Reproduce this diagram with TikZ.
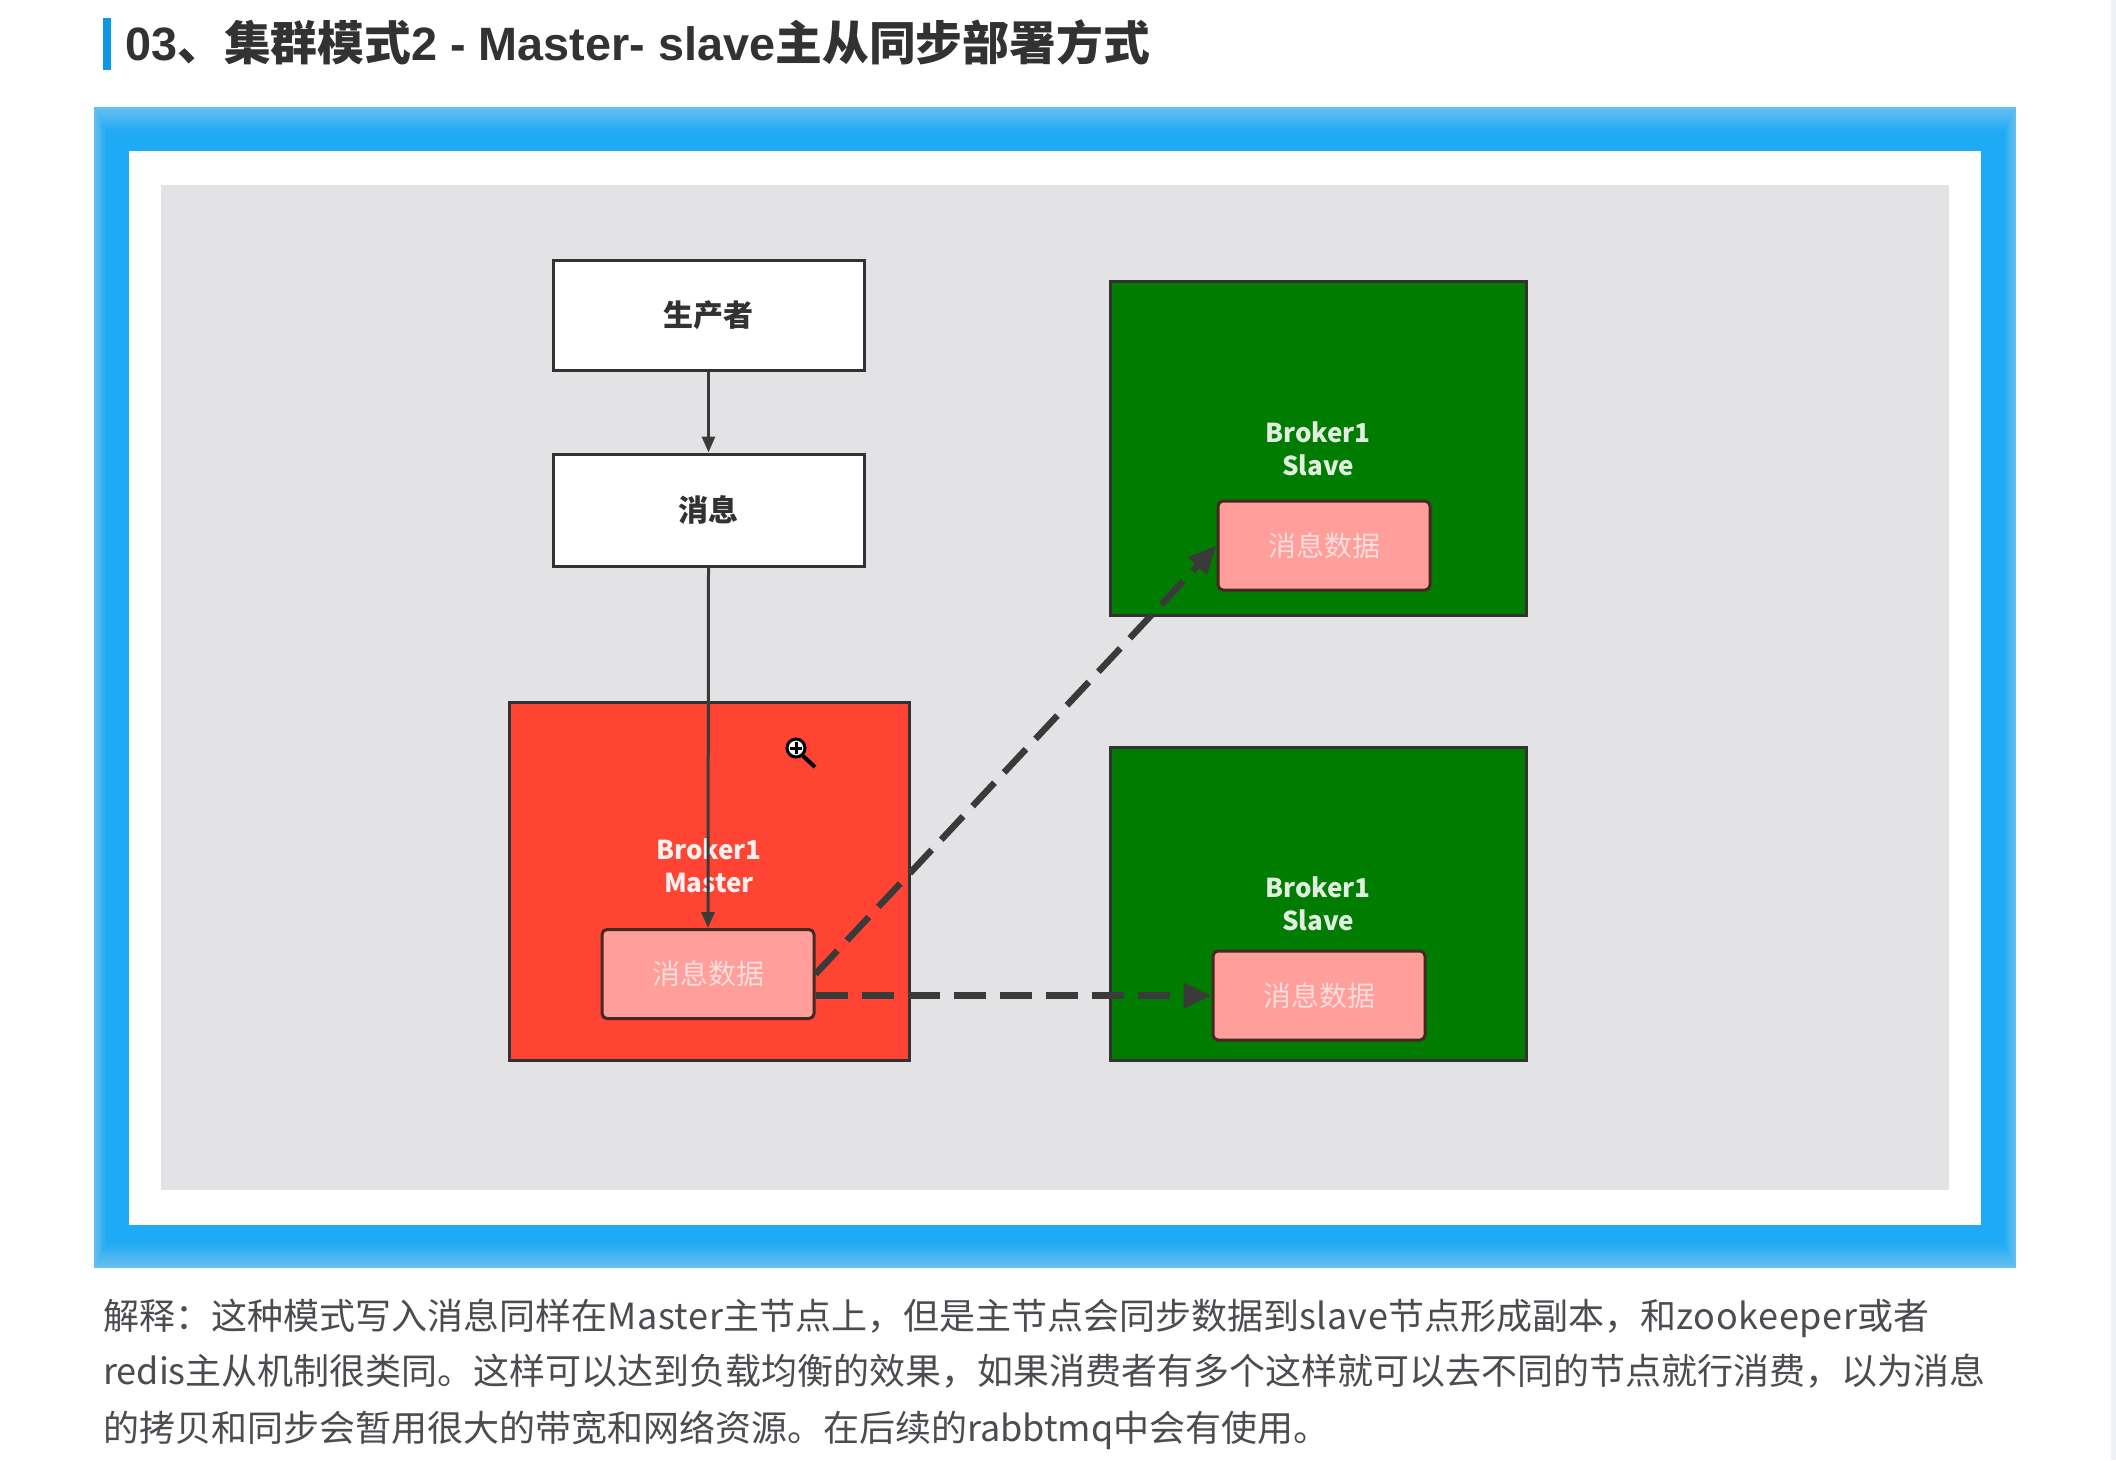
\documentclass[tikz,border=0pt]{standalone}
\usepackage{fontspec}
\usepackage{xcolor}
\setmainfont{Liberation Sans}
\newfontfamily\cjkfont{Noto Sans CJK SC}
\newcommand{\widelatin}[1]{{\addfontfeature{LetterSpace=2}#1}}
\usetikzlibrary{arrows.meta}
\tikzset{
	flowbox/.style={draw=BOX_LINE, line width=3pt, fill=white, text=TITLE_TEXT, inner sep=0pt, minimum width=311pt, font=\cjkfont\bfseries\fontsize{30}{34}\selectfont},
	brokerbox/.style={draw=BOX_LINE, line width=3pt, inner sep=0pt},
	databox/.style={draw=DATA_LINE, line width=3pt, fill=DATA_PINK, rounded corners=5pt, text=DATA_TEXT, inner sep=0pt, minimum width=212pt, minimum height=89pt, font=\cjkfont\fontsize{28}{32}\selectfont},
	brokerlabel/.style={align=center, inner sep=0pt, font=\cjkfont\bfseries\fontsize{26}{33}\selectfont},
	bodyline/.style={anchor=base west, inner sep=0pt, text=BODY_TEXT, font=\cjkfont\fontsize{36}{40}\selectfont},
	sendline/.style={-{Triangle[length=16pt, width=13pt]}, line width=3pt, draw=LINE_GRAY},
	syncline/.style={-{Triangle[length=28pt, width=24pt]}, line width=6.5pt, draw=LINE_GRAY, dash pattern=on 32pt off 14pt}
}

\begin{document}
\begin{tikzpicture}[x=1pt, y=-1pt]
	\definecolor{BAR_BLUE}{RGB}{16, 150, 230}
	\definecolor{FRAME_BLUE}{RGB}{30, 170, 245}
	\definecolor{FRAME_EDGE}{RGB}{100, 190, 238}
	\definecolor{PANEL_GRAY}{RGB}{227, 227, 229}
	\definecolor{STRIP_GRAY}{RGB}{240, 241, 246}
	\definecolor{BOX_LINE}{RGB}{50, 50, 50}
	\definecolor{TITLE_TEXT}{RGB}{50, 50, 50}
	\definecolor{BODY_TEXT}{RGB}{75, 75, 80}
	\definecolor{MASTER_RED}{RGB}{255, 68, 51}
	\definecolor{SLAVE_GREEN}{RGB}{0, 125, 0}
	\definecolor{DATA_PINK}{RGB}{255, 158, 155}
	\definecolor{DATA_LINE}{RGB}{70, 40, 35}
	\definecolor{DATA_TEXT}{RGB}{255, 222, 220}
	\definecolor{LINE_GRAY}{RGB}{58, 58, 58}
	\useasboundingbox (0, 0) rectangle (2116, 1460);

	\fill[STRIP_GRAY] (2111, 0) rectangle (2116, 1460);

	\fill[BAR_BLUE] (103, 18) rectangle (111, 70);
	\node[anchor=base west, inner sep=0pt, text=TITLE_TEXT, font=\bfseries\fontsize{46.8}{50}\selectfont] (title) at (125, 60) {03{\cjkfont 、集群模式}2 - Master- slave{\cjkfont 主从同步部署方式}};

	\foreach \step in {0, 1, 2, 3, 4, 5, 6, 7, 8} {
		\pgfmathsetmacro{\mixpart}{\step * 12.5}
		\fill[FRAME_BLUE!\mixpart!FRAME_EDGE] (94 + 1.5 * \step, 107 + 3 * \step) rectangle (2016 - 1.5 * \step, 1268 - 3 * \step);
	}
	\fill[white] (129, 151) rectangle (1981, 1225);
	\fill[PANEL_GRAY] (161, 185) rectangle (1949, 1190);

	\node[flowbox, minimum height=110pt] (producer) at (708.5, 315) {生产者};
	\node[flowbox, minimum height=112pt] (message) at (708.5, 510) {消息};

	\node[brokerbox, fill=MASTER_RED, minimum width=400pt, minimum height=358pt] (master) at (709.5, 881.5) {};
	\node[brokerbox, fill=SLAVE_GREEN, minimum width=416pt, minimum height=334pt] (slaveA) at (1318, 448) {};
	\node[brokerbox, fill=SLAVE_GREEN, minimum width=416pt, minimum height=313pt] (slaveB) at (1318, 903.5) {};

	\node[brokerlabel, text=white!92!MASTER_RED] (masterlabel) at (709, 866) {Broker1\\Master};
	\node[brokerlabel, text=white!88!SLAVE_GREEN] (slavelabelA) at (1318, 449) {Broker1\\Slave};
	\node[brokerlabel, text=white!88!SLAVE_GREEN] (slavelabelB) at (1318, 904) {Broker1\\Slave};

	\node[databox] (dataM) at (708, 974) {消息数据};
	\node[databox] (dataA) at (1324, 545.5) {消息数据};
	\node[databox] (dataB) at (1319, 995.5) {消息数据};

	\draw[sendline] (producer.south) -- (message.north);
	\draw[sendline] (message.south) -- (dataM.north);
	\draw[syncline] (dataM.east) -- (dataA.west);
	\draw[syncline] (dataM.east |- dataB.west) -- (dataB.west);

	\draw[line width=4pt, black] (803, 756) -- (815, 767);
	\draw[line width=3pt, black, fill=white] (796, 748) circle (9pt);
	\draw[line width=3pt, black] (790, 748) -- (802, 748) (796, 742) -- (796, 754);

	\node[bodyline] (lineA) at (103, 1329) {解释：这种模式写入消息同样在\widelatin{Master}主节点上，但是主节点会同步数据到\widelatin{slave}节点形成副本，和\widelatin{zookeeper}或者};
	\node[bodyline] (lineB) at (103, 1384) {redis主从机制很类同。这样可以达到负载均衡的效果，如果消费者有多个这样就可以去不同的节点就行消费，以为消息};
	\node[bodyline] (lineC) at (103, 1441) {的拷贝和同步会暂用很大的带宽和网络资源。在后续的rabbtmq中会有使用。};
\end{tikzpicture}
\end{document}
